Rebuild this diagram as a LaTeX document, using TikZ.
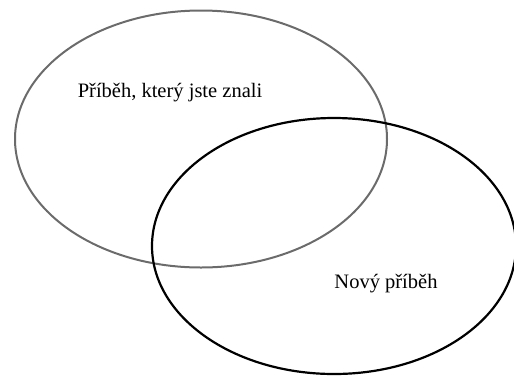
\documentclass[tikz,border=0pt]{standalone}
\usepackage{fontspec}
\setmainfont{Liberation Serif}
\usetikzlibrary{shapes.geometric}
\tikzset{
    oldstory/.style = {ellipse, draw=black!58, line width=2pt, inner sep=0pt},
    newstory/.style = {ellipse, draw=black, line width=2.2pt, inner sep=0pt},
    storytext/.style = {font=\fontsize{20.5}{24}\selectfont, inner sep=0pt}
}

\begin{document}
\begin{tikzpicture}[x=1pt,y=-1pt]
  \useasboundingbox (0,0) rectangle (514,376);
  % the two stories
  \node[oldstory, minimum width=372pt, minimum height=257pt] (old) at (201,139) {};
  \node[newstory, minimum width=364pt, minimum height=256pt] (new) at (334,246) {};
  % labels
  \node[storytext] (oldlabel) at (170,93) {Příběh, který jste znali};
  \node[storytext] (newlabel) at (386,284) {Nový příběh};
\end{tikzpicture}
\end{document}
